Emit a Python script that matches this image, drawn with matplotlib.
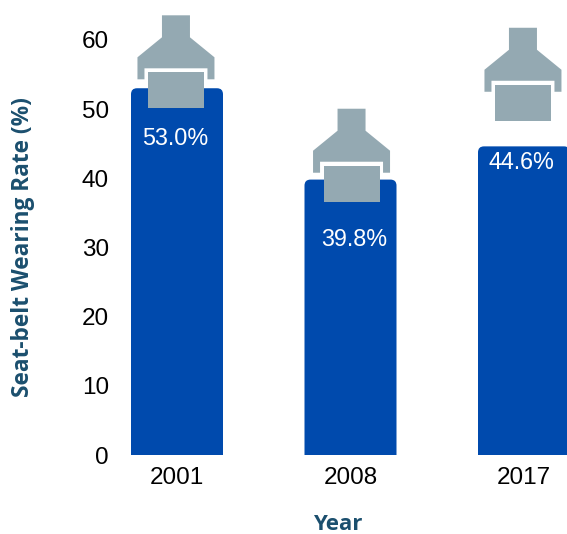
import matplotlib
matplotlib.use('Agg')
import matplotlib.pyplot as plt
from matplotlib.patches import FancyBboxPatch, Polygon, Rectangle

years = ['2001', '2008', '2017']
rates = [53.0, 39.8, 44.6]
labels = ['53.0%', '39.8%', '44.6%']
# the value labels are not quite centred on the bars
label_x = [-0.012, 1.02, 1.983]
label_y = [45.7, 31.2, 42.2]
# where the bottom centre of each buckle icon sits
icon_x = [-0.006, 1.006, 1.994]
icon_y = [50.1, 36.6, 48.3]
yticks = [0, 10, 20, 30, 40, 50, 60]

W, H = 567, 534
BLUE = '#004AAD'
GREY = '#94A9B2'
TEAL = '#1B4F6E'

# pixels per data unit
px_x = 173.5
px_y = 6.92

plt.rcParams['font.family'] = ['Liberation Sans', 'DejaVu Sans']

fig = plt.figure(figsize=(W / 100, H / 100), dpi=100)
left, bottom = 120, H - 455
ax = fig.add_axes([left / W, bottom / H, (W - left) / W, 455 / H])
ax.set_xlim(-(177 - left) / px_x, (W - 177) / px_x)
ax.set_ylim(0, 455 / px_y)

bar_w = 92 / px_x
radius = 6 / px_x
for i, r in enumerate(rates):
    # start below zero so only the top corners show as rounded
    ax.add_patch(FancyBboxPatch((i - bar_w / 2, -3), bar_w, r + 3,
                                boxstyle='round,pad=0,rounding_size=%f' % radius,
                                mutation_aspect=(6 / px_y) / radius,
                                fc=BLUE, ec='none', zorder=2))
    ax.text(label_x[i], label_y[i], labels[i], color='white', fontsize=16.8,
            ha='center', va='center', zorder=4)

# buckle icon, outline in pixels from the bottom centre
outline = [(-14, 93), (14, 93), (14, 71), (38.5, 51), (38.5, 29), (31.5, 29),
           (31.5, 40), (-31.5, 40), (-31.5, 29), (-38.5, 29), (-38.5, 51), (-14, 71)]
for x0, y0 in zip(icon_x, icon_y):
    pts = [(x0 + x / px_x, y0 + y / px_y) for x, y in outline]
    ax.add_patch(Polygon(pts, closed=True, fc=GREY, ec='none', zorder=3, clip_on=False))
    ax.add_patch(Rectangle((x0 - 28 / px_x, y0), 56 / px_x, 36 / px_y,
                           fc=GREY, ec='none', zorder=3))

ax.set_xticks(range(len(years)))
ax.set_xticklabels(years)
ax.set_yticks(yticks)
ax.tick_params(length=0, labelsize=17.5, labelcolor='black', pad=8)
ax.tick_params(axis='x', pad=9)
for s in ax.spines.values():
    s.set_visible(False)

fig.text(338 / W, 1 - 525 / H, 'Year', family='Open Sans', weight='bold',
         fontsize=16, color=TEAL, ha='center', va='center')
fig.text(23 / W, 1 - 247 / H, 'Seat-belt Wearing Rate (%)', family='Open Sans',
         weight='bold', fontsize=16.3, color=TEAL, rotation=90, ha='center', va='center')

fig.savefig('out.png', dpi=100)
